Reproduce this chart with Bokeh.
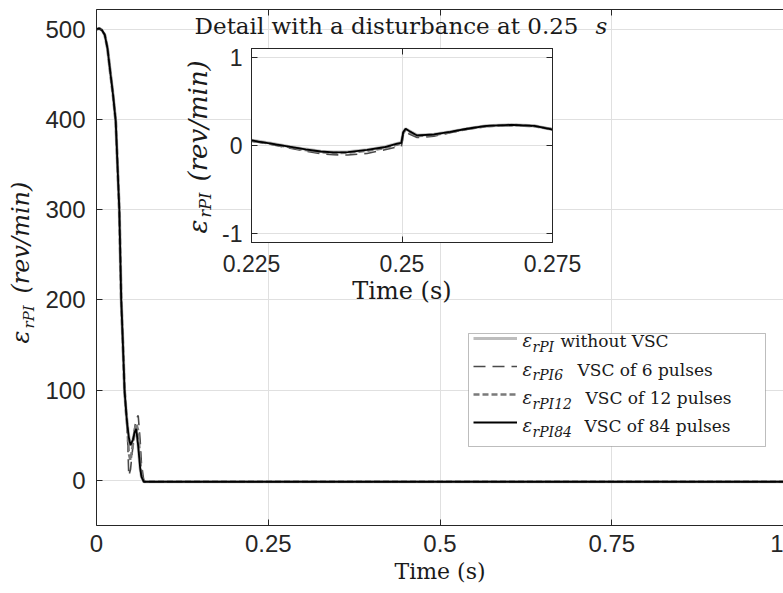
from bokeh.plotting import figure
from bokeh.models import (Range1d, FixedTicker, LinearAxis, Legend, LegendItem,
                          Label, BoxAnnotation, Grid)
from bokeh.embed import file_html
from bokeh.resources import INLINE

# ---------------- data ----------------
t_main = [0, 0.004, 0.008, 0.012, 0.016, 0.020, 0.024, 0.028, 0.0332, 0.036, 0.0385,
          0.0408, 0.0432, 0.0447, 0.047, 0.0495, 0.053, 0.0555, 0.0578, 0.0607, 0.0635,
          0.0655, 0.069, 0.075, 0.25, 0.5, 0.75, 1.0]
e_novsc = [500, 501, 499, 494, 479, 453, 428, 398, 300, 200, 150,
           100, 75, 63, 48, 39, 45, 53, 57, 38, 14,
           4, -1.5, -1.5, -1.5, -1.5, -1.5, -1.5]
e_6 = [500, 501, 499, 494, 479, 453, 428, 398, 300, 200, 150,
       100, 80, 60, 5, 12, 38, 58, 68, 72, 45,
       18, -1, -1.5, -1.5, -1.5, -1.5, -1.5]
e_12 = [500, 501, 499, 494, 479, 453, 428, 398, 300, 200, 150,
        100, 75, 62, 30, 22, 40, 55, 63, 55, 22,
        6, -1.5, -1.5, -1.5, -1.5, -1.5, -1.5]
e_84 = [500, 501, 499, 494, 479, 453, 428, 398, 300, 200, 150,
        100, 75, 63, 48, 39, 45, 53, 57, 38, 14,
        4, -1.5, -1.5, -1.5, -1.5, -1.5, -1.5]

t_inset = [0.225, 0.228, 0.231, 0.234, 0.2365, 0.2386, 0.241, 0.2442, 0.247, 0.2492, 0.2499,
           0.2502, 0.2506, 0.2512, 0.2525, 0.2553, 0.258, 0.2608, 0.264, 0.2685, 0.272, 0.275]
i_novsc = [0.06, 0.028, -0.008, -0.042, -0.066, -0.076, -0.073, -0.048, -0.018, 0.022, 0.032,
           0.15, 0.19, 0.165, 0.116, 0.126, 0.156, 0.19, 0.222, 0.235, 0.223, 0.182]
i_6 = [0.05, 0.015, -0.025, -0.065, -0.092, -0.105, -0.108, -0.09, -0.05, -0.015, -0.01,
       0.12, 0.16, 0.13, 0.09, 0.105, 0.145, 0.185, 0.215, 0.228, 0.218, 0.19]
i_12 = [0.055, 0.022, -0.015, -0.052, -0.075, -0.085, -0.082, -0.06, -0.03, 0.01, 0.02,
        0.14, 0.18, 0.155, 0.108, 0.12, 0.152, 0.188, 0.22, 0.232, 0.22, 0.185]
i_84 = [0.057, 0.025, -0.01, -0.045, -0.068, -0.078, -0.075, -0.05, -0.02, 0.02, 0.03,
        0.15, 0.19, 0.165, 0.114, 0.125, 0.155, 0.19, 0.222, 0.235, 0.222, 0.18]

main_xticks = [0, 0.25, 0.5, 0.75, 1.0]
main_xlabels = ["0", "0.25", "0.5", "0.75", "1"]
main_yticks = [0, 100, 200, 300, 400, 500]
main_ylabels = ["0", "100", "200", "300", "400", "500"]
inset_xticks = [0.225, 0.25, 0.275]
inset_xlabels = ["0.225", "0.25", "0.275"]
inset_yticks = [-1, 0, 1]
inset_ylabels = ["-1", "0", "1"]

legend_subs = ["rPI", "rPI6", "rPI12", "rPI84"]
legend_texts = ["without VSC", "VSC of 6 pulses", "VSC of 12 pulses", "VSC of 84 pulses"]

# ---------------- styles ----------------
AX = "#262626"
TXT = "#1a1a1a"
GRID = "#e0e0e0"
SERIF = "DejaVu Serif"
SANS = "Liberation Sans"
W, H = 783, 593
A = 1.5707963267948966
styles = [
    dict(color="#bdbdbd", line_width=3.2, line_dash="solid"),
    dict(color="#4a4a4a", line_width=1.6, line_dash="12 7"),
    dict(color="#7a7a7a", line_width=2.6, line_dash="6 3"),
    dict(color="#000000", line_width=1.8, line_dash="solid"),
]


def style_axis(ax, ticks, labels, size, hide=False):
    ax.ticker = FixedTicker(ticks=ticks)
    ax.major_label_overrides = {t: l for t, l in zip(ticks, labels)}
    ax.axis_line_color = AX
    ax.major_tick_line_color = AX
    ax.major_tick_in = 6
    ax.major_tick_out = 0
    ax.minor_tick_line_color = None
    ax.major_label_text_font = SANS
    ax.major_label_text_font_size = size
    ax.major_label_text_color = AX
    if hide:
        ax.major_label_text_font_size = "0px"
        ax.major_label_text_alpha = 0
        ax.major_label_standoff = 0


def add_text(fig, txt, X, Y, size, style="normal", rotated=False, align="left"):
    # X, Y: wanted baseline point in page pixels from the top-left
    off = 0.42 * size
    if rotated:
        X = X - off
    else:
        Y = Y - off
    fig.add_layout(Label(x=X, y=H - Y, x_units="screen", y_units="screen", text=txt,
                         text_font=SERIF, text_font_size=f"{size}px",
                         text_font_style=style, angle=A if rotated else 0.0,
                         text_align=align, text_baseline="alphabetic", text_color=TXT))


# ---------------- main figure ----------------
p = figure(width=W, height=H, output_backend="svg", toolbar_location=None,
           x_range=Range1d(0, 1), y_range=Range1d(-50, 522),
           min_border_left=96, min_border_right=0, min_border_top=9, min_border_bottom=68,
           x_axis_type=None, y_axis_type=None)
p.outline_line_color = None
p.background_fill_color = "white"
p.border_fill_color = "white"

xa = LinearAxis(axis_label="Time (s)")
style_axis(xa, main_xticks, main_xlabels, "24px")
xa.major_label_standoff = 9
xa.axis_label_standoff = 4
xa.axis_label_text_font = SERIF
xa.axis_label_text_font_style = "normal"
xa.axis_label_text_font_size = "22px"
xa.axis_label_text_color = TXT
p.add_layout(xa, "below")

ya = LinearAxis()
style_axis(ya, main_yticks, main_ylabels, "24px")
ya.major_label_standoff = 11
p.add_layout(ya, "left")

ta = LinearAxis()
style_axis(ta, main_xticks, main_xlabels, "24px", hide=True)
p.add_layout(ta, "above")

p.add_layout(Grid(dimension=0, ticker=FixedTicker(ticks=main_xticks), grid_line_color=GRID))
p.add_layout(Grid(dimension=1, ticker=FixedTicker(ticks=main_yticks), grid_line_color=GRID))

rs = []
for ys, st in zip([e_novsc, e_6, e_12, e_84], styles):
    rs.append(p.line(t_main, ys, **st))

# legend box + legend (sample lines); the texts go on the overlay
p.add_layout(BoxAnnotation(left=372, right=669, top=192, bottom=79,
                           left_units="screen", right_units="screen",
                           top_units="screen", bottom_units="screen",
                           fill_color="white", fill_alpha=1.0,
                           line_color=AX, line_width=1))
leg = Legend(items=[LegendItem(label=" ", renderers=[r]) for r in rs],
             location=(377, 91), padding=0, spacing=4, margin=0,
             label_height=24, glyph_height=24, glyph_width=44,
             label_width=1, label_standoff=0,
             border_line_alpha=0, background_fill_alpha=0,
             label_text_font_size="17px")
p.add_layout(leg)

# ---------------- inset figure ----------------
q = figure(width=440, height=300, output_backend="svg", toolbar_location=None,
           x_range=Range1d(0.225, 0.275), y_range=Range1d(-1.1, 1.1),
           min_border_left=71, min_border_right=68, min_border_top=38, min_border_bottom=68,
           x_axis_type=None, y_axis_type=None)
q.outline_line_color = AX
q.background_fill_color = "white"
q.border_fill_alpha = 0
q.background_fill_alpha = 1

qx = LinearAxis(axis_label="Time (s)")
style_axis(qx, inset_xticks, inset_xlabels, "23px")
qx.major_label_standoff = 12
qx.axis_label_standoff = 2
qx.axis_label_text_font = SERIF
qx.axis_label_text_font_style = "normal"
qx.axis_label_text_font_size = "24px"
qx.axis_label_text_color = TXT
q.add_layout(qx, "below")

qy = LinearAxis()
style_axis(qy, inset_yticks, inset_ylabels, "23px")
qy.major_label_standoff = 9
q.add_layout(qy, "left")

qt = LinearAxis()
style_axis(qt, inset_xticks, inset_xlabels, "23px", hide=True)
q.add_layout(qt, "above")
qr = LinearAxis()
style_axis(qr, inset_yticks, inset_ylabels, "23px", hide=True)
q.add_layout(qr, "right")

q.add_layout(Grid(dimension=0, ticker=FixedTicker(ticks=inset_xticks), grid_line_color=GRID))
q.add_layout(Grid(dimension=1, ticker=FixedTicker(ticks=inset_yticks), grid_line_color=GRID))

for ys, st in zip([i_novsc, i_6, i_12, i_84], styles):
    q.line(t_inset, ys, **st)

# ---------------- text overlay (frame covers the whole page) ----------------
o = figure(width=W, height=H, output_backend="svg", toolbar_location=None,
           x_range=Range1d(0, 1), y_range=Range1d(0, 1),
           min_border=0, min_border_left=0, min_border_right=0,
           min_border_top=0, min_border_bottom=0,
           x_axis_type=None, y_axis_type=None)
o.outline_line_color = None
o.background_fill_alpha = 0
o.border_fill_alpha = 0

# main y label
add_text(o, "ε", 31, 343, 24, "italic", rotated=True)
add_text(o, "rPI", 35, 328, 15, "italic", rotated=True)
add_text(o, "(rev/min)", 31, 293, 24, "italic", rotated=True)
# inset title
add_text(o, "Detail with a disturbance at 0.25", 578, 35, 23, align="right")
add_text(o, "s", 595, 35, 23, "italic")
# inset y label
add_text(o, "ε", 208, 233, 26, "italic", rotated=True)
add_text(o, "rPI", 212, 217, 16, "italic", rotated=True)
add_text(o, "(rev/min)", 208, 181, 26, "italic", rotated=True)
# legend texts
row_base = [348, 376.5, 405, 433]
text_start = [560, 577, 585, 584]
for i in range(4):
    add_text(o, "ε", 522, row_base[i], 18, "italic")
    add_text(o, legend_subs[i], 532, row_base[i] + 4, 14, "italic")
    add_text(o, legend_texts[i], text_start[i], row_base[i], 17)

TEMPLATE = """
{% from macros import embed %}
{% block postamble %}
<style>
  .layer1 { position: absolute; left: 0px; top: 0px; }
  .layer2 { position: absolute; left: 180px; top: 10px; }
  .layer3 { position: absolute; left: 0px; top: 0px; }
</style>
{% endblock %}
{% block contents %}
{% for doc in docs %}
{{ embed(doc) if doc.elementid }}
{% for root in doc.roots %}
<div class="layer{{ loop.index }}">{{ embed(root) }}</div>
{% endfor %}
{% endfor %}
{% endblock %}
"""

open("out.html", "w").write(file_html([p, q, o], INLINE, template=TEMPLATE))
